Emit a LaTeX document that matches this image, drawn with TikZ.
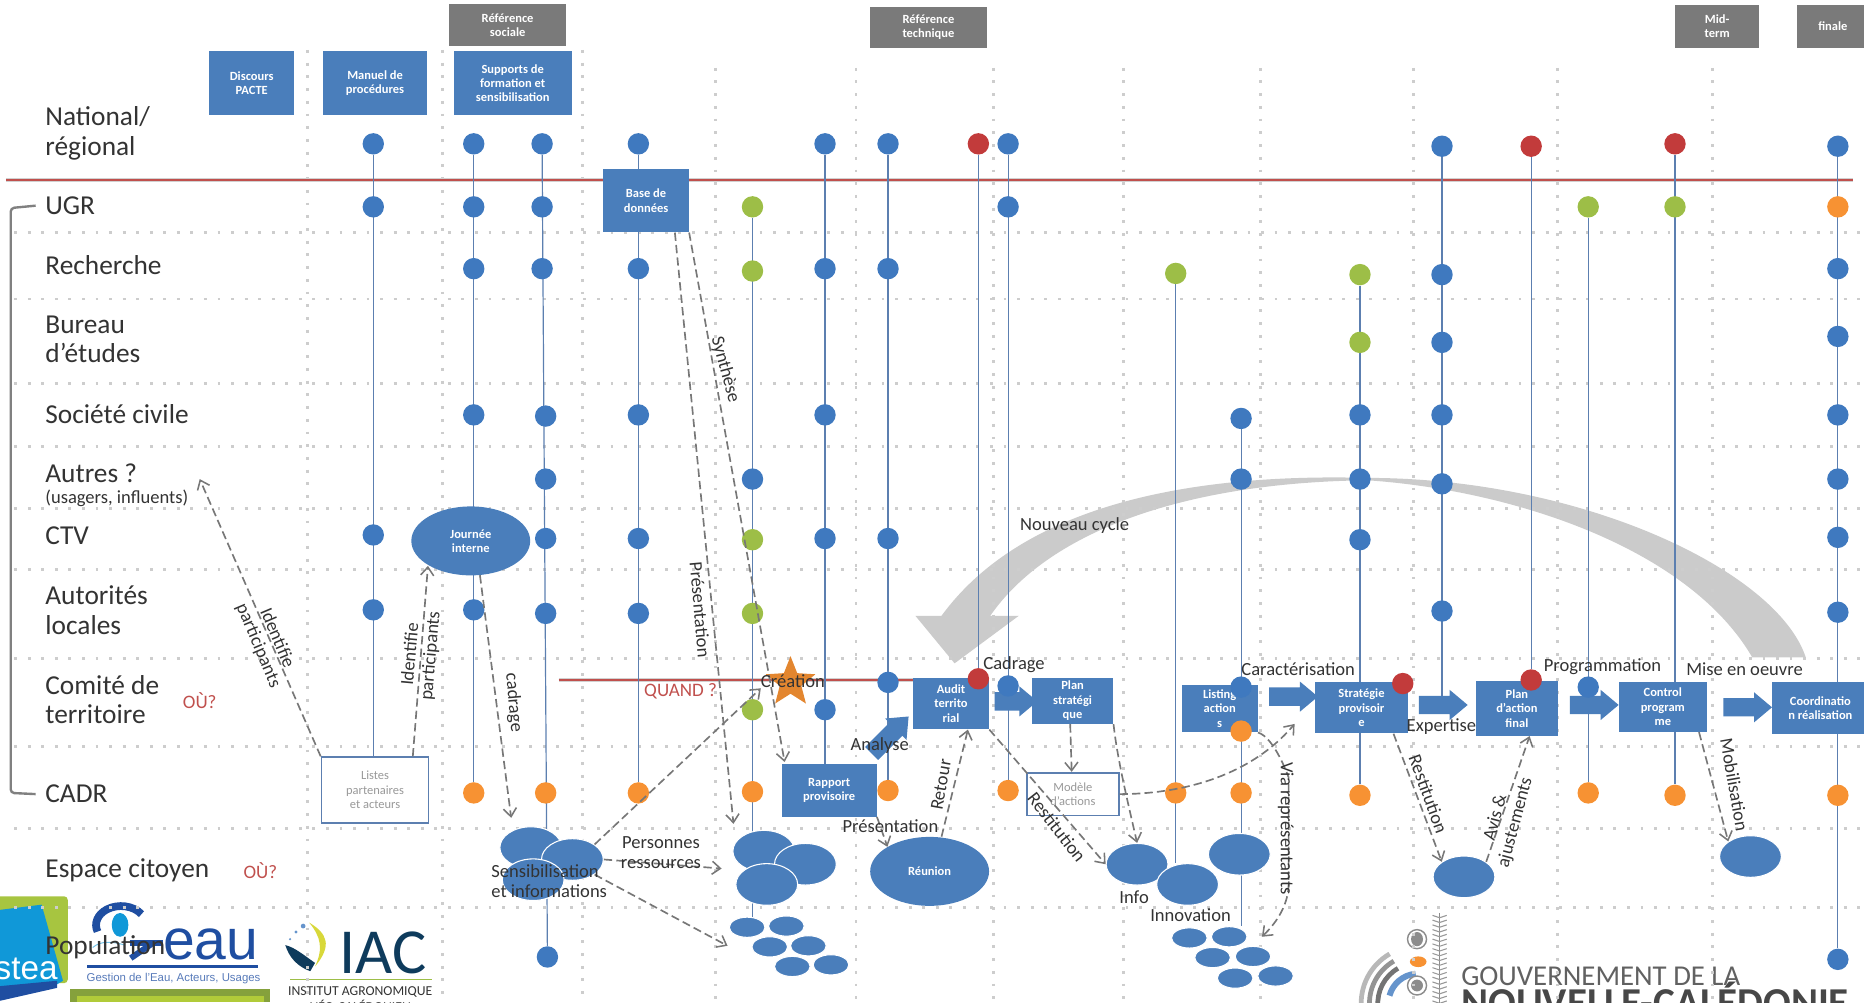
\documentclass[tikz,border=0pt]{standalone}
\usepackage{fontspec}
\setmainfont{Carlito}
\newfontfamily\lsans{Liberation Sans}
\usetikzlibrary{shapes.geometric,shapes.arrows,arrows.meta,calc}
\definecolor{dB}{HTML}{3F79BF}
\definecolor{dG}{HTML}{9DBE47}
\definecolor{dO}{HTML}{F79233}
\definecolor{dR}{HTML}{C23B3B}
\definecolor{boxblue}{HTML}{4A7EBB}
\definecolor{stemc}{HTML}{5C7FB0}
\definecolor{greybox}{HTML}{7A7A7A}
\definecolor{redline}{HTML}{C0504D}
\definecolor{txt}{HTML}{333333}
\definecolor{dashc}{HTML}{777777}
\definecolor{gridc}{HTML}{CDCDCD}
\definecolor{swoosh}{HTML}{CBCBCB}
\definecolor{geaublue}{HTML}{1F4EA1}
\definecolor{iacdark}{HTML}{0E3B5C}
\definecolor{steablue}{HTML}{1098D8}
\pgfdeclarelayer{back}
\pgfdeclarelayer{lines}
\pgfsetlayers{back,lines,main}
\tikzset{
  dotnode/.style={circle,minimum size=18pt,inner sep=0pt,draw=none},
  stemline/.style={stemc,line width=1pt},
  rowlabel/.style={anchor=west,text=txt,font=\fontsize{23}{25}\selectfont,align=left,inner sep=0pt},
  small/.style={text=txt,font=\fontsize{15.6}{17}\selectfont,inner sep=0pt,align=center},
  bluebox/.style={fill=boxblue,text=white,font=\bfseries\fontsize{10.5}{12}\selectfont,align=center,inner sep=0pt},
  greyboxs/.style={fill=greybox,text=white,font=\bfseries\fontsize{10.5}{12}\selectfont,align=center,inner sep=0pt},
  whitebox/.style={fill=white,draw=stemc,line width=1.5pt,text=black!40,font=\fontsize{10.5}{12}\selectfont,align=center,inner sep=0pt},
  blob/.style={ellipse,fill=boxblue,draw=white,line width=.9pt,minimum width=52pt,minimum height=35pt,inner sep=0pt},
  tinyblob/.style={ellipse,fill=boxblue,draw=white,line width=.9pt,minimum width=30pt,minimum height=17pt,inner sep=0pt},
  bigblob/.style={ellipse,fill=boxblue,text=white,font=\bfseries\fontsize{10.5}{12}\selectfont,align=center,minimum width=100pt,minimum height=58pt,inner sep=0pt},
  flow/.style={dashc,line width=1.4pt,dash pattern=on 7pt off 3.5pt,-{Straight Barb[length=7pt,width=11pt,line width=1.3pt]}},
  blockarrow/.style={single arrow,fill=boxblue,inner sep=0pt,single arrow head extend=5pt,single arrow tip angle=80},
  griddots/.style={gridc,line width=2.4pt,dash pattern=on 2.4pt off 9pt},
  griddotsv/.style={gridc,line width=2.4pt,dash pattern=on 2.4pt off 8.3pt}
}
\newcommand{\boxat}[7]{%
  \pgfmathsetmacro{\bw}{#5-#3}\pgfmathsetmacro{\bh}{#6-#4}%
  \node[#1,minimum width=\bw pt,minimum height=\bh pt] (#2) at ({(#3+#5)/2},{(#4+#6)/2}) {#7};}
\newcommand{\dotcol}[3]{\foreach \yy/\cc [count=\ii] in {#3}{\node[dotnode,fill=\cc] (#1-\ii) at (#2,\yy) {};}}
\newcommand{\shaftrule}{\vrule width 0pt height 15pt depth 0pt}
\begin{document}
\begin{tikzpicture}[x=1pt,y=-1pt]
\useasboundingbox (0,0) rectangle (1568,843);
% ---------- back layer: logos, swoosh, grid
\begin{pgfonlayer}{back}
  % stea logo
  \fill[rounded corners=3pt,fill=dG!90!yellow] (-5,754) rectangle (57,827);
  \fill[fill=steablue] (-5,766) -- (35,761) -- (53,825) -- (48,828) -- (-5,838) -- cycle;
  \fill[fill=geaublue] (-5,830) -- (48,825) -- (48,831) -- (-5,843) -- cycle;
  \node[text=white,font=\lsans\fontsize{28}{28}\selectfont,inner sep=0pt] (stea) at (22,815) {stea};
  % G-eau logo
  \draw[geaublue,line width=6.5pt] (119,769) arc[start angle=-35,end angle=-200,x radius=21,y radius=16];
  \draw[geaublue,line width=5pt] (109,793) -- (137,793);
  \draw[geaublue,line width=5pt] (129,793) -- (110,806);
  \draw[steablue!60,line width=.8pt] (78,797) .. controls (85,791) and (95,792) .. (105,795);
  \fill[steablue] (101,778) ellipse (7 and 10);
  \node[text=geaublue,font=\lsans\fontsize{48}{48}\selectfont,inner sep=0pt,anchor=base west] (eau) at (137,807) {eau};
  \draw[geaublue,line width=2pt] (73.5,813) -- (217,813);
  \node[text=geaublue!75,font=\lsans\fontsize{9.6}{11}\selectfont,inner sep=0pt] (geausub) at (146,823) {Gestion de l’Eau, Acteurs, Usages};
  \fill[fill=dG!85!black] (59,832) rectangle (227,843);
  \fill[fill=dG!80!yellow] (65,838) rectangle (222,843);
  % IAC logo
  \fill[fill=yellow!55!dG] (260,776) .. controls (275,785) and (280,795) .. (265,813) .. controls (272,798) and (270,788) .. cycle;
  \fill[fill=iacdark] (240,795) .. controls (248,797) and (255,803) .. (265,810) -- (261,817) .. controls (250,813) and (243,805) .. cycle;
  \fill[dB!80] (255,779) circle (2); \fill[dB!80] (249,784) circle (1.4); \fill[dB!80] (244,790) circle (1);
  \node[text=iacdark,font=\fontsize{54}{54}\selectfont,inner sep=0pt,anchor=base] (iac) at (322,819) {IAC};
  \draw[dG,line width=1.3pt] (244,824) -- (363,824);
  \node[text=txt,font=\fontsize{11.5}{13}\selectfont,inner sep=0pt] (iac1) at (303,834.5) {INSTITUT AGRONOMIQUE};
  \node[text=txt,font=\fontsize{11.5}{13}\selectfont,inner sep=0pt] (iac2) at (303,846) {NÉO-CALÉDONIEN};
  % Gouvernement logo
  \foreach \r/\cc in {48/black!28,41/black!42,34/black!55}{\draw[\cc,line width=4pt] (1193,844) ++(-120:\r) arc[start angle=-120,end angle=-185,radius=\r];}
  \draw[dB!80,line width=5pt] (1193,844) ++(-95:25) arc[start angle=-95,end angle=-165,radius=25];
  \fill[dO] (1193,809) ellipse (7 and 4.5);
  \fill[black!45] (1192,790) ellipse (5 and 6);
  \draw[black!45,line width=1.2pt] (1192,790) ellipse (8 and 8);
  \fill[black!45] (1192,829) ellipse (5 and 5);
  \draw[black!45,line width=1.2pt] (1192,829) ellipse (8 and 8);
  \draw[black!45,line width=.8pt] (1211,768) -- (1211,845);
  \foreach \yy in {772,776,...,844}{\draw[black!40,line width=.9pt] (1205,\yy-2) -- (1211,\yy) -- (1217,\yy-2);}
  \node[text=black!62,font=\fontsize{24.2}{26}\selectfont,inner sep=0pt,anchor=base west] (gouv1) at (1229,829) {GOUVERNEMENT DE LA};
  \node[text=black!72,font=\bfseries\fontsize{34.5}{35}\selectfont,inner sep=0pt,anchor=base west] (gouv2) at (1229,855) {NOUVELLE-CALÉDONIE};
  % swoosh
  \fill[swoosh] (1519,553) .. controls (1495,480) and (1330,402) .. (1150,402)
     .. controls (1000,398) and (860,425) .. (792,518)
     -- (770,518) -- (803,558) -- (857,518) -- (833,518)
     .. controls (880,450) and (990,406) .. (1150,404)
     .. controls (1270,412) and (1420,460) .. (1474,553) -- cycle;
  % dotted grid
  \foreach \yy in {195.4,251.5,322.4,375.7,428,478.9,553.7,628,697,763.4}{\draw[griddots] (12,\yy) -- (1568,\yy);}
  \foreach \xx in {258.5,372.5,490}{\draw[griddotsv] (\xx,42) -- (\xx,843);}
  \foreach \xx in {602,720,836,945,1060,1189,1310.5,1440.5}{\draw[griddotsv] (\xx,57) -- (\xx,843);}
\end{pgfonlayer}
% ---------- boxes
\boxat{greyboxs}{refsoc}{378}{3}{476}{39}{Référence\\sociale}
\boxat{greyboxs}{reftech}{732}{6}{830}{40}{Référence\\technique}
\boxat{greyboxs}{midterm}{1409}{4}{1480}{40}{Mid-\\term}
\boxat{greyboxs}{finale}{1511.5}{4}{1572}{40}{finale}
\boxat{bluebox}{discours}{176}{42.6}{247.5}{97}{Discours\\PACTE}
\boxat{bluebox}{manuel}{271.5}{42.6}{359.5}{97}{Manuel de\\procédures}
\boxat{bluebox}{supports}{381.5}{42.6}{481}{97}{Supports de\\formation et\\sensibilisation}
\boxat{bluebox}{base}{507.5}{142}{579.5}{195.4}{Base de\\données}
\boxat{whitebox}{listes}{270.5}{637}{360.5}{692}{Listes\\partenaires\\et acteurs}
\boxat{bluebox}{rapport}{657.5}{643}{737.5}{687}{Rapport\\provisoire}
\boxat{bluebox}{audit}{768}{570}{832}{613.5}{Audit\\territo\\rial}
\boxat{bluebox}{planstrat}{868}{570}{936.5}{609}{Plan\\stratégi\\que}
\boxat{whitebox}{modele}{864}{650}{941}{686}{Modèle\\d’actions}
\boxat{bluebox}{listing}{994}{576}{1058}{616}{Listing\\action\\s}
\boxat{bluebox}{strategie}{1106.5}{574}{1184}{617}{Stratégie\\provisoir\\e}
\boxat{bluebox}{planfinal}{1241.5}{573}{1310.5}{619}{Plan\\d’action\\final}
\boxat{bluebox}{control}{1361.5}{573.6}{1436}{615.7}{Control\\program\\me}
\boxat{bluebox}{coord}{1490.5}{574}{1572}{617.6}{Coordinatio\\n réalisation}
% ---------- blobs
\node[bigblob] (journee) at (396,455) {Journée\\interne};
\node[bigblob] (reunion) at (782,733) {Réunion};
\node[blob] (cl1a) at (446.5,713) {};
\node[blob] (cl1b) at (481.5,723) {};
\node[blob] (cl1c) at (448.5,740) {};
\node[blob] (cl2a) at (642.5,716) {};
\node[blob] (cl2b) at (677.5,727) {};
\node[blob] (cl2c) at (645,744) {};
\node[blob] (info) at (956.5,727) {};
\node[blob] (inno) at (999,744) {};
\node[blob] (repr) at (1042.5,718.6) {};
\node[blob] (avis) at (1231.5,737.6) {};
\node[blob] (mobil) at (1472.5,720.5) {};
\node[tinyblob] (s1a) at (628.5,780) {};
\node[tinyblob] (s1b) at (661.5,779) {};
\node[tinyblob] (s1c) at (647.5,796.5) {};
\node[tinyblob] (s1d) at (680,795.6) {};
\node[tinyblob] (s1e) at (666.5,813) {};
\node[tinyblob] (s1f) at (699,811.6) {};
\node[tinyblob] (s2a) at (1000.5,789) {};
\node[tinyblob] (s2b) at (1034,788) {};
\node[tinyblob] (s2c) at (1020,805.5) {};
\node[tinyblob] (s2d) at (1054,804.6) {};
\node[tinyblob] (s2e) at (1039,822.8) {};
\node[tinyblob] (s2f) at (1073,821) {};
% ---------- block arrows
\node[blockarrow,minimum height=36pt] (ba1) at (850,590) {\shaftrule};
\node[blockarrow,minimum height=41pt] (ba2) at (1083.5,586) {\shaftrule};
\node[blockarrow,minimum height=41pt] (ba3) at (1209.5,593) {\shaftrule};
\node[blockarrow,minimum height=41pt] (ba4) at (1336.5,593) {\shaftrule};
\node[blockarrow,minimum height=41pt] (ba5) at (1465.5,595) {\shaftrule};
\node[blockarrow,minimum height=44pt,rotate=45] (ba6) at (745.5,621.5) {\shaftrule};
% star
\node[star,star points=5,star point ratio=2.3,fill=dO!92!black,minimum size=44pt,inner sep=0pt] (etoile) at (665,574) {};
% ---------- dots
\dotcol{c1}{314}{121/dB,174/dB,450/dB,513/dB}
\dotcol{c2}{398.5}{121/dB,174/dB,226/dB,349/dB,513/dB,667/dO}
\dotcol{c3}{456}{121/dB,174/dB,226/dB}
\dotcol{c3b}{459}{350/dB,403/dB,453/dB,516/dB,667/dO}
\node[dotnode,fill=dB] (c3z) at (460.5,805) {};
\dotcol{c4}{537}{121/dB,226/dB,349/dB,453/dB,516/dB,667/dO}
\dotcol{c5}{633}{174/dG,228/dG,403/dB,454/dG,516/dG,597/dG,666/dO}
\dotcol{c6}{694}{121/dB,226/dB,349/dB,453/dB,597/dB}
\dotcol{c7}{747}{121/dB,226/dB,453/dB,574/dB,665/dO}
\dotcol{c8}{823}{121/dR,571/dR}
\dotcol{c9}{848}{121/dB,174/dB,577/dB,665/dO}
\dotcol{c10}{989}{230/dG,667/dO}
\dotcol{c11}{1044}{352/dB,403/dB,578/dB,615/dO,667/dO}
\dotcol{c12}{1144}{231/dG,288/dG,349/dB,403/dB,454/dB,669/dO}
\dotcol{c13}{1213}{123/dB,231/dB,288/dB,349/dB,407/dB,514/dB}
\dotcol{c14}{1288}{123/dR,572/dR}
\dotcol{c15}{1336}{174/dG,578/dB,667/dO}
\dotcol{c16}{1409}{121/dR,174/dG,669/dO}
\dotcol{c17}{1546}{123/dB,174/dO,226/dB,283/dB,349/dB,403/dB,452/dB,515/dB,669/dO,807/dB}
\node[dotnode,fill=dR] (redstrat) at (1180,575) {};
% ---------- stems and red lines
\coordinate (rl1) at (5,151.7);
\coordinate (rl2) at (1559,151.7);
\coordinate (ql1) at (470,572);
\begin{pgfonlayer}{lines}
  \draw[black!18,line width=3.6pt] (rl1) -- (rl2);
  \draw[redline,line width=1.5pt] (rl1) -- (rl2);
  \draw[black!18,line width=3.2pt] (ql1) -- (audit.west |- ql1);
  \draw[redline,line width=1.4pt] (ql1) -- (audit.west |- ql1);
  \draw[stemline] (c1-1) -- (c1-1 |- listes.north);
  \draw[stemline] (c2-1) -- (c2-6);
  \draw[stemline] (c3-1) -- (c3z);
  \draw[stemline] (c4-1) -- (c4-6);
  \draw[stemline] (c5-1) -- (c5-1 |- s1a.north);
  \draw[stemline] (c6-1) -- (c6-1 |- rapport.north);
  \draw[stemline] (c7-1) -- (c7-5);
  \draw[stemline] (c8-1) -- (c8-2);
  \draw[stemline] (c9-1) -- (c9-4);
  \draw[stemline] (c10-1) -- (c10-1 |- inno.north);
  \draw[stemline] (c11-1) -- (c11-1 |- s2b.north);
  \draw[stemline] (c12-1) -- (c12-6);
  \draw[stemline] (c13-1) -- (c13-1 |- ba3.north);
  \draw[stemline] (c14-1) -- (c14-2);
  \draw[stemline] (c15-1) -- (c15-3);
  \draw[stemline] (c16-1) -- (c16-3);
  \draw[stemline] (c17-1) -- (c17-10);
\end{pgfonlayer}
% ---------- bracket
\node[rowlabel] (ugr) at (38,173) {UGR};
\node[rowlabel] (cadr) at (38,668) {CADR};
\draw[black!50,line width=2pt,rounded corners=3pt] (ugr.west) ++(-8,0) -- (9,175) -- (9,667) -- ([xshift=-8pt]cadr.west);
% ---------- row labels
\node[rowlabel] (national) at (38,112) {National/\\régional};
\node[rowlabel] (recherche) at (38,223) {Recherche};
\node[rowlabel] (bureau) at (38,285.5) {Bureau\\d’études};
\node[rowlabel] (societe) at (38,348) {Société civile};
\node[rowlabel] (autres) at (38,398) {Autres ?};
\node[rowlabel,font=\fontsize{15.6}{17}\selectfont] (usagers) at (38,419) {(usagers, influents)};
\node[rowlabel] (ctv) at (38,451) {CTV};
\node[rowlabel] (autorites) at (38,513.5) {Autorités\\locales};
\node[rowlabel] (comite) at (38,588.5) {Comité de\\territoire};
\node[rowlabel] (espace) at (38,732) {Espace citoyen};
\node[rowlabel] (population) at (38,797) {Population};
\node[small,text=redline,font=\fontsize{16}{17}\selectfont] (ou1) at (168,589) {OÙ?};
\node[small,text=redline,font=\fontsize{16}{17}\selectfont] (ou2) at (219,732.6) {OÙ?};
\node[small,text=redline,font=\fontsize{16}{17}\selectfont] (quand) at (572.5,581.8) {QUAND ?};
% ---------- flow connectors
\coordinate (endA) at (168,403);
\coordinate (endB) at (360,476);
\coordinate (endC) at (430,688);
\coordinate (endD) at (617,693);
\coordinate (endE) at (660,641);
\coordinate (endF) at (640,579);
\coordinate (endG) at (607,730.6);
\coordinate (endH) at (612,795.6);
\coordinate (endM) at (1089,609);
\coordinate (endV) at (1061.5,788);
\coordinate (v1) at (1084,654);
\coordinate (v2) at (1084,743);
\draw[flow] (listes.north west) -- (endA);
\draw[flow] ([xshift=-14pt]listes.north east) -- (endB);
\draw[flow] (journee.-75) -- (endC);
\draw[flow] ([xshift=-12pt]base.south east) -- (endD);
\draw[flow] (base.south east) -- (endE);
\draw[flow] (cl1b.north east) -- (endF);
\draw[flow] (cl1b.east) -- (endG);
\draw[flow] (cl1b.south east) -- (endH);
\draw[flow] (rapport.south east) -- (reunion.north west);
\draw[flow] (reunion.north) ++(10,0) -- ([xshift=-18pt]audit.south east);
\draw[flow] (audit.south east) -- (info.west);
\draw[flow] ([xshift=-2pt]planstrat.south) -- ([xshift=-1pt]modele.north);
\draw[flow] (planstrat.south east) .. controls (940,640) and (950,680) .. (info.north);
\draw[flow] (modele.east) .. controls (990,668) and (1050,655) .. (endM);
\draw[flow] (listing.south east) .. controls (1072,620) and (v1) .. (v1) -- (v2) .. controls (1084,760) and (1075,775) .. (endV);
\draw[flow] ([xshift=-12pt]strategie.south east) -- (avis.north west);
\draw[flow] (avis.north east) -- ([xshift=-24pt]planfinal.south east);
\draw[flow] ([xshift=-7pt]control.south east) -- (mobil.north west);
% ---------- rotated labels
\node[small,rotate=-67] (lA) at (225,540) {Identifie\\participants};
\node[small,rotate=85] (lB) at (354,551) {Identifie\\participants};
\node[small,rotate=-85] (lC) at (432,591) {cadrage};
\node[small,rotate=-75] (lS) at (610,311) {Synthèse};
\node[small,rotate=-85] (lP) at (589,513) {Présentation};
\node[small,rotate=80] (lR) at (791.5,660) {Retour};
\node[small,rotate=-52] (lRe) at (889,696) {Restitution};
\node[small,rotate=-90] (lV) at (1081.5,697) {Via représentants};
\node[small,rotate=-70] (lRs) at (1201.5,668) {Restitution};
\node[small,rotate=75] (lAv) at (1266.5,690) {Avis \&\\ajustements};
\node[small,rotate=-80] (lMo) at (1459,660) {Mobilisation};
% ---------- plain labels
\node[small] (lCad) at (853,558.8) {Cadrage};
\node[small] (lCar) at (1092,563) {Caractérisation};
\node[small] (lExp) at (1212.5,611) {Expertise};
\node[small] (lPro) at (1348,561) {Programmation};
\node[small] (lMis) at (1467.5,563) {Mise en oeuvre};
\node[small] (lNou) at (904,442) {Nouveau cycle};
\node[small] (lCre) at (667,572.7) {Création};
\node[small] (lAna) at (740,626.8) {Analyse};
\node[small] (lPre) at (749,695) {Présentation};
\node[small] (lPer) at (556,717) {Personnes\\ressources};
\node[small,align=left] (lSen) at (462,741) {Sensibilisation\\et informations};
\node[small] (lInf) at (954,755) {Info};
\node[small] (lInn) at (1001.5,770) {Innovation};
\end{tikzpicture}
\end{document}
